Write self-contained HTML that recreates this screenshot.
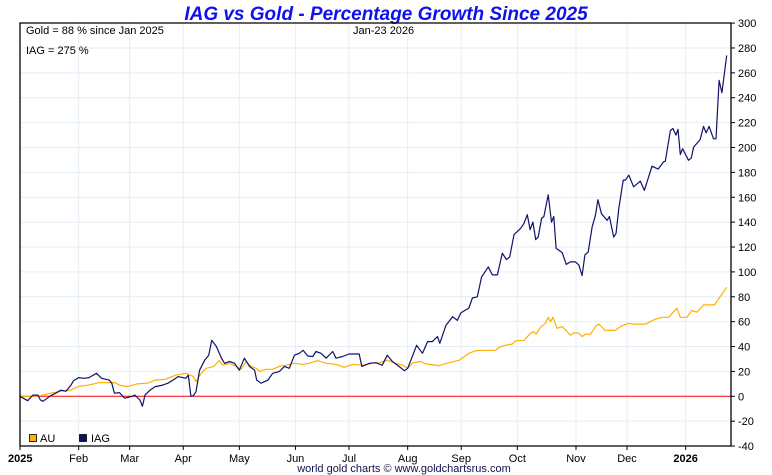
<!DOCTYPE html>
<html><head><meta charset="utf-8"><style>
body{margin:0;background:#fff;}
svg{display:block;font-family:"Liberation Sans",sans-serif;}
</style></head><body>
<svg id="chart" width="772" height="475" viewBox="0 0 772 475">
<text x="386" y="20" text-anchor="middle" font-size="19" font-weight="bold" font-style="italic" fill="#1010ee">IAG vs Gold - Percentage Growth Since 2025</text>
<g id="grid"></g>
<g id="series"></g>
<g id="axes"></g>
<text x="26" y="34" font-size="11" fill="#000">Gold = 88 % since Jan 2025</text>
<text x="353" y="34" font-size="11" fill="#000">Jan-23  2026</text>
<text x="26" y="54" font-size="11" fill="#000">IAG = 275 %</text>
<g>
<rect x="29.5" y="434.5" width="7" height="7" fill="#ffb000" stroke="#000" stroke-width="0.8"/>
<text x="40" y="442" font-size="11">AU</text>
<rect x="79.5" y="434.5" width="7" height="7" fill="#101060" stroke="#000" stroke-width="0.8"/>
<text x="91" y="442" font-size="11">IAG</text>
</g>
<text x="404" y="472" text-anchor="middle" font-size="11" fill="#101050">world gold charts © www.goldchartsrus.com</text>
</svg>
<script>
const tickDays=[0,23,43,64,86,108,129,152,173,195,218,238,261];
const tickLabels=["2025","Feb","Mar","Apr","May","Jun","Jul","Aug","Sep","Oct","Nov","Dec","2026"];
const yTicks=[-40,-20,0,20,40,60,80,100,120,140,160,180,200,220,240,260,280,300];
const iagDays=[0,3,5,7,8,9,12,14,16,18,20,21,23,25,27,30,32,35,36,37,39,41,44,45,47,48,49,51,53,56,58,60,62,65,66,67,68,69,70.4,72.4,74,75.2,77,79,80.2,82.2,84.1,86,88,90,92,92.8,94.5,97.2,99.1,101.7,103.7,105.6,107.6,109.5,111,112.8,114.8,116,118,120,122.6,123.9,126.5,129,133,134,137,139.5,142,144,146,148.6,150.7,152,154,155.5,157.8,159.8,161.7,163.7,164.6,167,169.6,171.5,172.8,176,177.4,179.3,181,183.6,185.2,187.2,189.1,190.7,192,193.7,196.3,197.6,198.9,200,201.1,202.2,203.2,204.5,205.4,207.1,208.4,209.3,210.2,212.6,214.2,215.8,217.8,219.1,220.4,221.5,222.8,224.3,225.6,226.6,228,230.2,231.1,232.8,233.7,234.8,236.5,237.4,238.7,240.6,243.2,244.8,246.5,247.8,250.2,252.4,253,255,256,257.2,258,258.9,259.8,262.1,263.2,264.1,266.7,268,269,270.2,271.9,272.9,274.1,275.2,277.1];
const iagValues=[0,-3.5,1,1,-3,-4,0.5,2.5,5,4,9,12.6,15,14.5,15,18.5,14.5,13,10.5,2.5,3,-1.5,0,1,-3,-8,1,5,7.8,9,10.5,13,15.8,14.5,17,0,0.5,3.8,21,29,33,45,40,30.6,26.5,28,26.5,21,30.6,24,21,13,10.5,13,18.5,20,24,22.5,33,34.6,37,32.4,32,36,34.6,30.6,36,30.6,32,34,34,24,26.5,27,25,33,28,24,20.6,22.5,33,41,34.6,44,44,48,42.6,57,64,61,67,71,79,80,96,104,97.6,97.6,115,110,112,130,135,139,146,134,140,126,128,143,144.5,162,140,144.5,119,115.5,106,108,108,105.6,97,113.7,116,136,145.4,158,146.7,141.4,144.5,128,130.8,151,173.8,173.8,177.8,168.4,173,165.5,176.5,185,182.6,188.5,189,213.7,215.3,210,214.6,194.4,199,189.7,191.6,200.3,206.4,217,211.7,217,207,207,253.9,244,274];
const goldDays=[0,4,8,12,16,20,23,27,31,35,37,39,42,46,50,53,57,61,65,68,69,71,73,76,78,79.5,82,84.8,86.7,88.7,90.6,92.6,93.9,96.5,99,101.7,104.3,107.6,110.8,113.4,116.7,120,123.9,127.1,130.4,134.3,138.2,140.8,144,147.4,150,152,154,157.2,159.1,164.3,168.3,172.2,176,178.7,182.6,186.5,187.8,190.2,193,194.3,197.6,200.2,201.5,202.4,204.1,206,207.1,208,209,210.6,212.6,214.5,215.8,217.1,219.1,220.4,221.7,223.7,225.6,226.9,229.5,233.4,235.4,238.7,240.6,245.2,249.1,251.7,254.3,256.3,257.6,258.9,261.5,263.4,265.4,268,270.6,272.3,274.5,277.1];
const goldValues=[0,0,0.5,2.5,4,5,8,9,11,11,11,9,7.8,10,10.5,13,13.7,17,18.5,15.8,11.8,18.5,22.5,24,28.7,25,26.5,24,21.7,28,24,22.5,20,21.7,21.7,24,25,26.5,25.7,26.5,28.7,26.5,25.7,23.3,25.7,25,26.5,27,29,26.5,25,22.5,27,28,26,24.7,27,29,34.6,36.7,37,37,39.4,41,42,44.5,45,50.7,52,50,55.5,58.7,63.5,60,63.5,54.7,56,52,49,51,50.7,48,50,50,56,58,53,53,56,58.7,58,58,62,63.5,63.5,68,70.8,63.5,63.5,69,67.6,73.5,73.5,73.5,80,87.7];

const X0=20,X1=731,Y0=23,Y1=446,DAYSPAN=277.6;
const xs=d=>X0+d*(708/DAYSPAN);
const ys=v=>396.3-v*1.244;
const NS="http://www.w3.org/2000/svg";
function mk(tag,attrs,parent){const e=document.createElementNS(NS,tag);for(const k in attrs)e.setAttribute(k,attrs[k]);parent.appendChild(e);return e;}
const grid=document.getElementById('grid'),axes=document.getElementById('axes'),series=document.getElementById('series');

yTicks.forEach(v=>{
  const y=ys(v);
  if(v>-40&&v<300){const g=mk('line',{x1:X0,x2:X1,y1:y,y2:y,stroke:v===0?'#ff0000':'#e4eef7','stroke-width':1},v===0?series:grid);
    
    }
  const t=mk('line',{x1:X1,x2:X1+4,y1:y,y2:y,stroke:'#000','stroke-width':1},axes);
  
  
  const l=mk('text',{x:X1+7,y:y+4,'font-size':11},axes);l.textContent=v;
  
  
});
tickDays.forEach((d,i)=>{
  const x=xs(d);
  if(i>0){const g=mk('line',{x1:x,x2:x,y1:Y0,y2:Y1,stroke:'#e4eef7','stroke-width':1},grid);
    
    }
  const t=mk('line',{x1:x,x2:x,y1:Y1,y2:Y1+4,stroke:'#000','stroke-width':1},axes);
  
  
  const bold=tickLabels[i].length===4;
  const l=mk('text',{x:i===0?X0-12:x,y:Y1+16,'font-size':11,'text-anchor':i===0?'start':'middle','font-weight':bold?'bold':'normal'},axes);
  l.textContent=tickLabels[i];
  
  
});
const frame=mk('path',{d:`M${X0},${Y1}V${Y0}H${X1}V${Y1}H${X0}`,fill:'none',stroke:'#000','stroke-width':1.3},axes);



function line(days,vals,color,name){
  const d=days.map((t,i)=>(i?'L':'M')+xs(t).toFixed(1)+','+ys(vals[i]).toFixed(1)).join('');
  const p=mk('path',{d:d,fill:'none',stroke:color,'stroke-width':1.2,'stroke-linejoin':'round'},series);
  
  
}
line(goldDays,goldValues,'#ffb000','gold-line');
line(iagDays,iagValues,'#12126a','iag-line');
</script>
</body></html>
